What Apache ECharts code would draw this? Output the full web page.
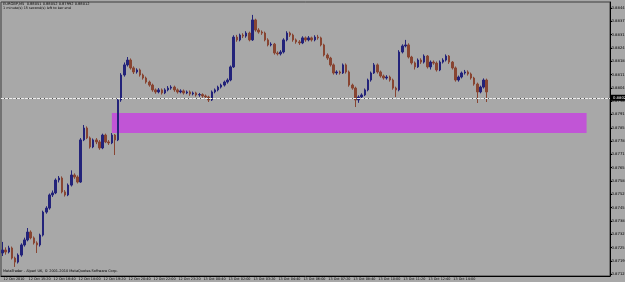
<!DOCTYPE html>
<html><head><meta charset="utf-8">
<script src="https://cdn.jsdelivr.net/npm/echarts@6/dist/echarts.min.js"></script>
<style>html,body{margin:0;padding:0;background:#a8a8a8}#c{width:625px;height:282px}</style>
</head><body><div id="c"></div>
<script>
// Prices in points (divide by 100000)
const opens=[87230,87245,87235,87255,87205,87185,87220,87270,87295,87334,87305,87280,87270,87319,87433,87453,87518,87528,87592,87602,
87533,87518,87567,87617,87607,87582,87791,87850,87801,87756,87791,87781,87751,87815,87781,87776,87815,87791,87989,88113,
88163,88187,88148,88128,88138,88113,88098,88078,88063,88039,88029,88039,88024,88039,88048,88053,88039,88029,88034,88024,
88029,88019,88024,88014,88016,88009,88004,87989,88029,88039,88053,88063,88078,88088,88153,88301,88287,88311,88306,88321,
88287,88386,88336,88326,88321,88287,88262,88266,88222,88218,88227,88287,88321,88311,88287,88277,88272,88297,88287,88297,
88287,88301,88297,88262,88212,88197,88163,88123,88128,88123,88163,88128,88063,88048,87989,88004,88014,88039,88088,88123,
88163,88128,88108,88098,88103,88088,88048,88039,88227,88257,88262,88202,88173,88153,88187,88177,88207,88153,88177,88172,
88138,88177,88187,88207,88177,88148,88088,88103,88123,88128,88118,88098,88068,88029,88053,88088];
const closes=[87245,87235,87255,87205,87185,87220,87270,87295,87334,87305,87280,87270,87319,87433,87453,87518,87528,87592,87602,87533,
87518,87567,87617,87607,87582,87791,87850,87801,87756,87791,87781,87751,87815,87781,87776,87815,87791,87989,88113,88163,
88187,88148,88128,88138,88113,88098,88078,88063,88039,88029,88039,88024,88039,88048,88053,88039,88029,88034,88024,88029,
88019,88024,88014,88016,88009,88004,87989,88029,88039,88053,88063,88078,88088,88153,88301,88287,88311,88306,88321,88287,
88386,88336,88326,88321,88287,88262,88266,88222,88218,88227,88287,88321,88311,88287,88277,88272,88297,88287,88297,88287,
88301,88297,88262,88212,88197,88163,88123,88128,88123,88163,88128,88063,88048,87989,88004,88014,88039,88088,88123,88163,
88128,88108,88098,88103,88088,88048,88039,88227,88257,88262,88202,88173,88153,88187,88177,88207,88153,88177,88172,88138,
88177,88187,88207,88177,88148,88088,88103,88123,88128,88118,88098,88068,88029,88053,88088,88029];
const lows=[87215,87222,87228,87198,87161,87178,87212,87262,87288,87298,87272,87230,87262,87312,87425,87445,87508,87522,87580,87526,
87510,87512,87560,87598,87575,87578,87785,87795,87748,87750,87770,87742,87745,87775,87766,87770,87716,87785,87980,88105,
88155,88140,88118,88120,88105,88090,88070,88055,88030,88020,88022,88016,88018,88032,88040,88030,88021,88022,88016,88018,
88010,88012,88006,88005,88000,87995,87979,87984,88022,88032,88046,88056,88070,88082,88148,88278,88280,88296,88298,88280,
88282,88328,88318,88312,88280,88255,88255,88214,88210,88210,88220,88280,88302,88278,88268,88262,88266,88278,88280,88279,
88280,88288,88255,88205,88188,88155,88115,88114,88115,88118,88120,88055,88040,87954,87975,87995,88008,88032,88080,88118,
88120,88100,88090,88090,88080,88040,88004,88032,88220,88250,88195,88165,88140,88148,88168,88170,88145,88140,88164,88130,
88132,88170,88180,88168,88140,88080,88080,88096,88115,88110,88090,88060,87974,88022,88046,87979];
const highs=[87285,87258,87266,87262,87212,87228,87278,87306,87354,87342,87312,87288,87326,87440,87462,87525,87540,87600,87612,87610,
87542,87575,87640,87625,87615,87800,87865,87858,87808,87798,87800,87790,87822,87822,87790,87825,87820,87998,88122,88175,
88202,88195,88156,88146,88145,88120,88105,88085,88070,88046,88048,88046,88047,88058,88062,88060,88046,88042,88041,88036,
88036,88031,88030,88024,88022,88016,88010,88036,88046,88060,88070,88085,88096,88160,88310,88312,88318,88320,88330,88328,
88411,88392,88345,88334,88328,88295,88275,88272,88230,88236,88295,88330,88328,88318,88294,88286,88305,88304,88306,88303,
88310,88312,88303,88268,88220,88203,88170,88136,88135,88170,88170,88135,88070,88055,88012,88022,88046,88095,88130,88172,
88170,88135,88115,88112,88110,88095,88055,88236,88265,88287,88270,88208,88180,88195,88196,88215,88212,88185,88185,88180,
88185,88196,88215,88212,88182,88155,88110,88130,88138,88136,88125,88104,88075,88060,88096,88095];
const yTickLabels=[88445,88379,88313,88247,88181,88115,88049,87983,87917,87851,87785,87719,87653,87587,87521,87455,87389,87323,87257,87191,87125];
const xTickLabels=['12 Oct 2010','12 Oct 15:20','12 Oct 16:40','12 Oct 18:00','12 Oct 19:20','12 Oct 20:40','12 Oct 22:00','12 Oct 23:20',
'13 Oct 00:40','13 Oct 02:00','13 Oct 03:20','13 Oct 04:40','13 Oct 06:00','13 Oct 07:20','13 Oct 08:40','13 Oct 10:00',
'13 Oct 11:20','13 Oct 12:40','13 Oct 14:00','13 Oct 15:20'];
const zoneTop=87924, zoneBottom=87825, zoneStartBar=35, zoneEndBar=187;
const bidLine=88024, askLine=88034;
const titleText='EURGBP,M5  0.88051 0.88052 0.87992 0.88012';
const timerText='1 minute(s) 15 second(s) left to bar end';
const copyText='MetaTrader - Alpari UK, \u00a9 2001-2010 MetaQuotes Software Corp.';

const SLOTS=195, LABEL_EVERY=8;
const cats=Array.from({length:SLOTS},(_,i)=>String(i));
const ohlc=closes.map((c,i)=>[opens[i]/1e5,c/1e5,lows[i]/1e5,highs[i]/1e5]);
const showLbl=(i)=> i%LABEL_EVERY===0 && i/LABEL_EVERY<xTickLabels.length;
const FONT='DejaVu Sans';

const chart=echarts.init(document.getElementById('c'),null,{renderer:'canvas'});
chart.setOption({
  animation:false,
  backgroundColor:'#a8a8a8',
  grid:{left:1,right:15,top:2,bottom:6,outerBoundsMode:'none',containLabel:false,show:true,borderColor:'#3c3c3c',borderWidth:1,backgroundColor:'#a8a8a8'},
  xAxis:{type:'category',data:cats,boundaryGap:true,
    axisLine:{lineStyle:{color:'#000',width:1}},
    axisTick:{alignWithLabel:true,length:3,interval:(i)=>showLbl(i),lineStyle:{color:'#000'}},
    axisLabel:{interval:(i)=>showLbl(i),showMinLabel:true,showMaxLabel:false,hideOverlap:false,
      formatter:(v)=>{const i=parseInt(v,10);return showLbl(i)?xTickLabels[i/LABEL_EVERY]:'';},
      fontSize:3.4,color:'#000',margin:1.5,align:'left',padding:[0,0,0,1],fontFamily:FONT},
    splitLine:{show:false}},
  yAxis:{type:'value',position:'right',min:0.87116,max:0.88475,scale:true,
    splitLine:{show:false},
    axisLine:{show:true,lineStyle:{color:'#000',width:1}},
    axisTick:{show:true,length:2,customValues:yTickLabels.map(v=>v/1e5),lineStyle:{color:'#000'}},
    axisLabel:{customValues:yTickLabels.map(v=>v/1e5),formatter:(v)=>v.toFixed(5),fontSize:3.8,color:'#000',margin:1.5,fontFamily:FONT}},
  graphic:[
    {type:'text',left:3,top:2.5,z:100,style:{text:titleText,fontSize:3.6,fill:'#000',fontFamily:FONT}},
    {type:'text',left:3,top:6.5,z:100,style:{text:timerText,fontSize:3.4,fill:'#000',fontFamily:FONT}},
    {type:'text',left:3,top:269.5,z:100,style:{text:copyText,fontSize:3.5,fill:'#000',fontFamily:FONT}}
  ],
  series:[{
    type:'candlestick',data:ohlc,barWidth:2,
    itemStyle:{color:'#23237a',color0:'#884532',borderColor:'#23237a',borderColor0:'#884532',borderWidth:1},
    markArea:{silent:true,itemStyle:{color:'#c155d6',opacity:1},
      data:[[{xAxis:cats[zoneStartBar],yAxis:zoneTop/1e5},{xAxis:cats[zoneEndBar],yAxis:zoneBottom/1e5}]]},
    markLine:{silent:true,symbol:'none',animation:false,
      data:[
        {yAxis:askLine/1e5,lineStyle:{color:'#555',type:[2,1],width:1},label:{show:false}},
        {yAxis:bidLine/1e5,lineStyle:{color:'#eeeeee',type:[3,1],width:1},
          label:{show:true,position:'end',distance:1,formatter:(closes[closes.length-1]/1e5).toFixed(5),
            backgroundColor:'#000',color:'#fff',fontSize:3.8,padding:[1,2],fontFamily:FONT}}
      ]}
  }]
});
</script></body></html>
